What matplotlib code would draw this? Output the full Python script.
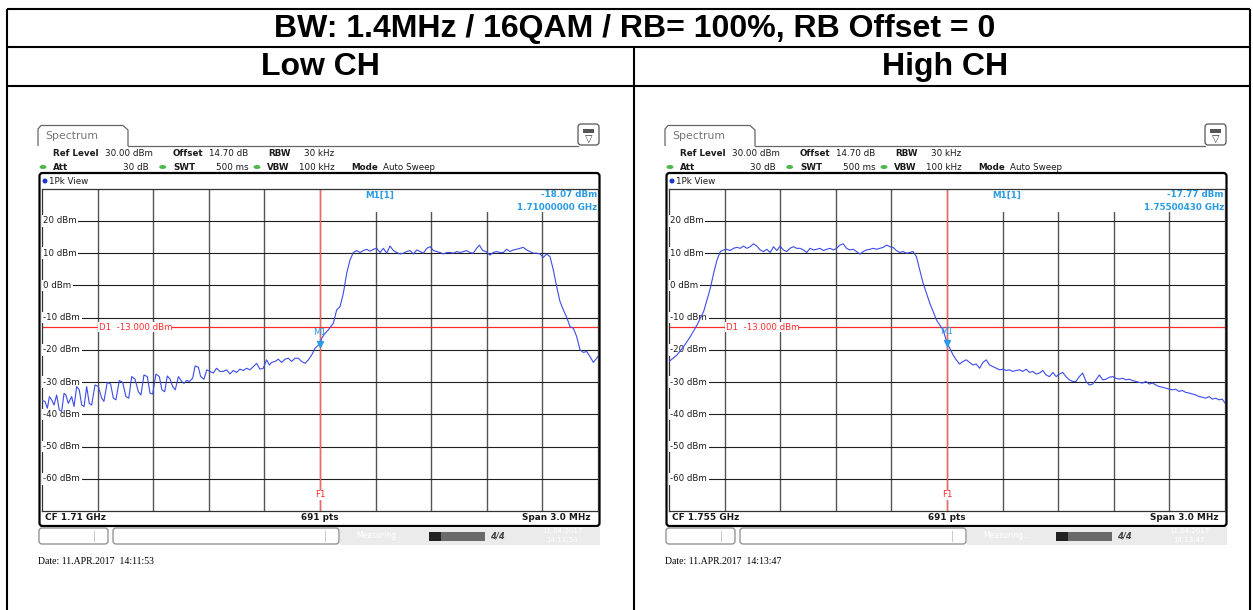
import matplotlib
matplotlib.use('Agg')
import matplotlib.pyplot as plt
from matplotlib.patches import Rectangle, FancyBboxPatch, Ellipse, Polygon
import numpy as np

plt.rcParams['font.family'] = ['DejaVu Sans']

# ---- chart data ----
title = 'BW: 1.4MHz / 16QAM / RB= 100%, RB Offset = 0'
col_titles = ['Low CH', 'High CH']

# trace: frequency offset from CF (MHz) and level (dBm)
low_freq = [-1.500, -1.484, -1.471, -1.460, -1.448, -1.435, -1.421, -1.407, -1.394, -1.381,
            -1.371, -1.358, -1.340, -1.327, -1.313, -1.299, -1.286, -1.273, -1.259, -1.245,
            -1.232, -1.214, -1.196, -1.178, -1.166, -1.148, -1.130, -1.115, -1.101, -1.083,
            -1.065, -1.047, -1.032, -1.016, -0.998, -0.980, -0.966, -0.950, -0.932, -0.917,
            -0.903, -0.885, -0.867, -0.853, -0.838, -0.824, -0.809, -0.795, -0.781, -0.764,
            -0.746, -0.734, -0.719, -0.705, -0.687, -0.674, -0.656, -0.644, -0.626, -0.611,
            -0.594, -0.576, -0.558, -0.540, -0.522, -0.504, -0.486, -0.468, -0.450, -0.432,
            -0.414, -0.396, -0.378, -0.360, -0.342, -0.324, -0.306, -0.288, -0.273, -0.261,
            -0.243, -0.225, -0.207, -0.189, -0.171, -0.153, -0.135, -0.117, -0.099, -0.081,
            -0.063, -0.045, -0.027, 0.000, 0.009, 0.027, 0.045, 0.072, 0.090, 0.108,
            0.126, 0.144, 0.162, 0.180, 0.198, 0.216, 0.234, 0.252, 0.270, 0.288,
            0.306, 0.324, 0.342, 0.360, 0.378, 0.396, 0.414, 0.432, 0.450, 0.468,
            0.486, 0.504, 0.522, 0.540, 0.558, 0.576, 0.594, 0.612, 0.630, 0.648,
            0.666, 0.684, 0.702, 0.720, 0.738, 0.756, 0.773, 0.791, 0.809, 0.827,
            0.845, 0.860, 0.878, 0.896, 0.917, 0.935, 0.953, 0.971, 0.989, 1.007,
            1.025, 1.043, 1.061, 1.079, 1.097, 1.115, 1.133, 1.151, 1.169, 1.187,
            1.205, 1.223, 1.241, 1.259, 1.277, 1.295, 1.313, 1.331, 1.349, 1.367,
            1.385, 1.403, 1.421, 1.439, 1.457, 1.475, 1.493, 1.500]
low_dbm = [-35.7, -36.0, -38.1, -34.5, -35.5, -37.1, -34.0, -38.6, -39.1, -33.5,
           -34.0, -36.6, -34.5, -37.6, -31.4, -32.4, -37.1, -37.6, -31.4, -36.6,
           -37.1, -30.9, -31.4, -35.0, -36.0, -30.1, -30.6, -35.0, -35.5, -29.5,
           -30.1, -34.5, -35.0, -28.3, -29.1, -33.0, -34.0, -27.8, -28.3, -33.5,
           -33.7, -27.5, -28.3, -32.4, -33.0, -28.1, -29.1, -31.4, -32.4, -28.3,
           -29.8, -30.4, -29.5, -29.8, -28.8, -25.0, -25.4, -28.3, -29.1, -26.2,
           -26.7, -27.2, -25.7, -26.7, -26.7, -26.2, -27.5, -26.4, -27.0, -26.0,
           -26.4, -25.7, -26.2, -25.2, -24.2, -26.0, -25.7, -23.1, -24.7, -23.9,
           -23.6, -22.9, -23.9, -22.9, -22.6, -23.6, -22.6, -22.6, -23.6, -24.2,
           -23.1, -21.6, -19.5, -18.07, -16.4, -14.9, -13.8, -11.75, -7.6, -6.6,
           -2.45, 3.75, 7.9, 10.2, 10.8, 10.2, 10.8, 11.2, 10.6, 11.2,
           11.5, 10.2, 11.5, 10.0, 12.2, 10.8, 10.2, 9.75, 10.0, 10.5,
           10.8, 9.75, 11.0, 10.5, 10.0, 11.5, 12.0, 10.8, 10.5, 10.2,
           9.75, 10.2, 10.2, 10.0, 10.5, 10.2, 10.5, 10.8, 10.2, 10.0,
           11.5, 12.5, 10.8, 10.5, 9.4, 10.2, 10.5, 10.2, 10.2, 11.2,
           10.5, 11.0, 11.2, 11.5, 11.8, 11.0, 10.5, 10.0, 10.0, 9.75,
           8.7, 9.75, 8.9, 4.8, -0.4, -5.0, -7.6, -9.9, -12.8, -13.3,
           -15.9, -20.0, -20.8, -20.5, -22.1, -23.9, -22.6, -22.0]

high_freq = [-1.500, -1.493, -1.457, -1.421, -1.385, -1.349, -1.313, -1.295, -1.277, -1.259,
             -1.241, -1.223, -1.205, -1.188, -1.170, -1.152, -1.134, -1.116, -1.098, -1.080,
             -1.062, -1.044, -1.026, -1.008, -0.990, -0.972, -0.954, -0.936, -0.918, -0.901,
             -0.883, -0.865, -0.847, -0.829, -0.811, -0.793, -0.775, -0.757, -0.739, -0.721,
             -0.703, -0.685, -0.667, -0.649, -0.631, -0.613, -0.596, -0.578, -0.560, -0.542,
             -0.524, -0.506, -0.488, -0.470, -0.452, -0.434, -0.416, -0.398, -0.380, -0.362,
             -0.344, -0.326, -0.308, -0.291, -0.273, -0.255, -0.237, -0.219, -0.201, -0.183,
             -0.165, -0.147, -0.129, -0.111, -0.093, -0.075, -0.057, -0.039, -0.021, 0.000,
             0.015, 0.033, 0.050, 0.068, 0.086, 0.104, 0.122, 0.140, 0.158, 0.176,
             0.194, 0.212, 0.230, 0.248, 0.266, 0.284, 0.302, 0.320, 0.337, 0.355,
             0.373, 0.391, 0.409, 0.427, 0.445, 0.463, 0.481, 0.499, 0.517, 0.535,
             0.553, 0.571, 0.589, 0.607, 0.624, 0.642, 0.660, 0.678, 0.696, 0.714,
             0.732, 0.750, 0.768, 0.786, 0.804, 0.822, 0.840, 0.858, 0.876, 0.894,
             0.911, 0.929, 0.947, 0.965, 0.983, 1.001, 1.019, 1.037, 1.055, 1.073,
             1.091, 1.109, 1.127, 1.145, 1.163, 1.181, 1.198, 1.216, 1.234, 1.252,
             1.270, 1.288, 1.306, 1.324, 1.342, 1.360, 1.378, 1.396, 1.414, 1.432,
             1.450, 1.468, 1.485, 1.500]
high_dbm = [-23.5, -23.3, -21.6, -19.0, -15.9, -12.3, -8.1, -4.5, -0.9, 3.8,
            7.9, 10.5, 11.0, 11.2, 10.8, 11.5, 11.8, 11.5, 12.2, 11.5,
            12.0, 12.9, 12.2, 11.0, 10.5, 11.2, 10.2, 12.0, 10.8, 12.2,
            11.0, 10.5, 11.5, 12.0, 11.5, 11.5, 11.0, 10.2, 11.5, 11.0,
            11.2, 11.5, 10.8, 11.2, 11.5, 11.0, 11.5, 12.5, 12.9, 11.5,
            11.0, 11.2, 10.5, 9.7, 10.5, 11.0, 11.2, 11.5, 11.2, 11.5,
            11.8, 12.5, 12.0, 11.8, 10.8, 10.2, 10.5, 10.0, 10.2, 10.5,
            8.9, 4.8, 0.7, -2.4, -5.5, -8.1, -10.7, -12.3, -13.8, -17.77,
            -19.5, -21.6, -23.1, -24.4, -23.6, -23.1, -23.9, -24.7, -24.4, -25.7,
            -23.9, -23.1, -24.7, -25.2, -25.7, -26.2, -26.0, -26.4, -26.2, -26.7,
            -26.4, -26.2, -26.7, -26.0, -27.0, -26.7, -27.5, -27.2, -26.4, -27.8,
            -28.3, -27.0, -28.3, -27.5, -27.0, -28.3, -29.3, -29.8, -29.8, -28.3,
            -27.2, -29.8, -30.9, -30.6, -29.3, -27.8, -29.3, -29.1, -28.5, -28.3,
            -28.8, -29.1, -28.8, -29.3, -29.1, -29.5, -29.8, -30.1, -30.3, -29.8,
            -30.6, -30.3, -30.9, -31.4, -31.6, -31.9, -32.2, -32.4, -32.2, -32.9,
            -32.6, -33.2, -33.4, -33.7, -34.0, -34.5, -34.7, -35.0, -34.5, -35.3,
            -35.0, -35.5, -35.3, -36.5]

cf_labels = ['CF 1.71 GHz', 'CF 1.755 GHz']
marker_dbm = [-18.07, -17.77]
marker_freq_labels = ['1.71000000 GHz', '1.75500430 GHz']
date_labels = ['Date: 11.APR.2017  14:11:53', 'Date: 11.APR.2017  14:13:47']
clock_labels = ['14:11:53', '14:13:47']
limit_dbm = -13.0
y_ticks = [20, 10, 0, -10, -20, -30, -40, -50, -60]
span_mhz = 3.0

W, H = 1253, 610
fig = plt.figure(figsize=(W / 100, H / 100), dpi=100)

# background axes in pixel coordinates (table + screenshot chrome)
bg = fig.add_axes([0, 0, 1, 1])
bg.set_xlim(0, W)
bg.set_ylim(H, 0)
bg.axis('off')

# table
tk = dict(color='black', lw=1.5, solid_capstyle='butt')
bg.plot([7, 1250], [9, 9], **tk)
bg.plot([7, 1250], [47, 47], **tk)
bg.plot([7, 1250], [86, 86], **tk)
bg.plot([7, 7], [9, 610], **tk)
bg.plot([1250, 1250], [9, 610], **tk)
bg.plot([634, 634], [47, 610], **tk)
bg.text(635, 29, title, ha='center', va='center', fontsize=23, fontweight='bold',
        family='Liberation Sans')
for cx, t in zip([320, 945], col_titles):
    bg.text(cx, 67, t, ha='center', va='center', fontsize=23, fontweight='bold',
            family='Liberation Sans')

TXT = '#1a1a1a'
BLUE_M = '#2b9be3'
RED = '#ff2a2a'


def chrome(dx, cf_label, date_label, clock):
    # tab + header
    bg.add_patch(Polygon([(38 + dx, 146), (38 + dx, 129), (41 + dx, 125.5), (123 + dx, 125.5),
                          (128 + dx, 130), (128 + dx, 146)], closed=False, fill=False,
                         ec='#666666', lw=0.9))
    bg.plot([128 + dx, 578 + dx], [146, 146], color='#666666', lw=0.9)
    bg.text(45 + dx, 136, 'Spectrum', fontsize=7.8, color='#777777', va='center')
    bg.add_patch(FancyBboxPatch((578 + dx, 124), 21, 21, boxstyle='round,pad=0,rounding_size=3',
                                fc='white', ec='#555555', lw=0.9))
    bg.add_patch(Rectangle((583 + dx, 128.5), 11, 4, fc='#555555', ec='none'))
    bg.text(588.5 + dx, 139, '\u25bd', fontsize=7, ha='center', va='center', color='#333333')

    r1 = [(52.7, 'Ref Level', 'bold'), (105, '30.00 dBm', 'normal'), (173, 'Offset', 'bold'),
          (209, '14.70 dB', 'normal'), (268, 'RBW', 'bold'), (304, '30 kHz', 'normal')]
    for x, t, w in r1:
        bg.text(x + dx, 153, t, fontsize=6.3, fontweight=w, color=TXT, va='center')
    r2 = [(52.7, 'Att', 'bold', 'left'), (149, '30 dB', 'normal', 'right'),
          (173, 'SWT', 'bold', 'left'), (249, '500 ms', 'normal', 'right'),
          (267, 'VBW', 'bold', 'left'), (299, '100 kHz', 'normal', 'left'),
          (351, 'Mode', 'bold', 'left'), (383, 'Auto Sweep', 'normal', 'left')]
    for x, t, w, ha in r2:
        bg.text(x + dx, 167, t, fontsize=6.3, fontweight=w, color=TXT, va='center', ha=ha)
    for x in [43, 162.7, 257]:
        bg.add_patch(Ellipse((x + dx, 167), 7, 4, fc='#4cb84c', ec='none'))

    # window frame
    bg.add_patch(FancyBboxPatch((39.5 + dx, 173), 560, 353, boxstyle='round,pad=0,rounding_size=3',
                                fc='none', ec='black', lw=1.6))
    bg.add_patch(Ellipse((45 + dx, 181), 5, 5, fc='#1f33d6', ec='none'))
    bg.text(49 + dx, 181, '1Pk View', fontsize=6.3, color=TXT, va='center')

    # bottom info bar
    bg.text(45 + dx, 518, cf_label, fontsize=6.4, fontweight='bold', color=TXT, va='center')
    bg.text(320 + dx, 518, '691 pts', fontsize=6.4, fontweight='bold', color=TXT,
            va='center', ha='center')
    bg.text(591 + dx, 518, 'Span 3.0 MHz', fontsize=6.4, fontweight='bold', color=TXT,
            va='center', ha='right')

    # status bar
    bg.add_patch(FancyBboxPatch((39 + dx, 528), 69, 16, boxstyle='round,pad=0,rounding_size=3',
                                fc='white', ec='#8a8a8a', lw=0.9))
    bg.plot([94 + dx, 94 + dx], [531, 541], color='#cccccc', lw=0.8)
    bg.add_patch(FancyBboxPatch((113 + dx, 528), 226, 16, boxstyle='round,pad=0,rounding_size=3',
                                fc='white', ec='#8a8a8a', lw=0.9))
    bg.plot([325 + dx, 325 + dx], [531, 541], color='#cccccc', lw=0.8)
    bg.add_patch(Rectangle((340 + dx, 527), 260, 18, fc='#ebebeb', ec='none'))
    bg.text(356 + dx, 536, 'Measuring...', fontsize=5.5, color='white', va='center')
    bg.add_patch(Rectangle((429 + dx, 531.5), 56, 9, fc='#6a6a6a', ec='none'))
    bg.add_patch(Rectangle((429 + dx, 531.5), 12, 9, fc='#222222', ec='none'))
    bg.text(497 + dx, 536, '4/4', fontsize=6, fontweight='bold', style='italic',
            color='#444444', va='center', ha='center')
    bg.text(562 + dx, 531, '11.04.2017', fontsize=5, color='white', va='center', ha='center')
    bg.text(562 + dx, 539.5, clock, fontsize=5, color='white', va='center', ha='center')

    bg.text(38 + dx, 562, date_label, fontsize=7, color='black', va='center',
            family='Liberation Serif')


def spectrum(dx, freq, dbm, m_db, m_freq):
    x0, x1, y0, y1 = 42 + dx, 598 + dx, 188.7, 511
    ax = fig.add_axes([x0 / W, 1 - y1 / H, (x1 - x0) / W, (y1 - y0) / H])
    ax.set_xlim(-span_mhz / 2, span_mhz / 2)
    ax.set_ylim(-70, 30)
    ax.set_yticks(y_ticks)
    ax.set_xticks(np.arange(-1.2, 1.21, 0.3))
    ax.tick_params(length=0, labelleft=False, labelbottom=False)
    ax.set_axisbelow(True)
    ax.yaxis.grid(True, color='#1e1e1e', lw=0.8)
    ax.xaxis.grid(True, color='#555555', lw=1.0)
    for s in ax.spines.values():
        s.set_color('#333333')
        s.set_linewidth(0.9)

    # white area behind marker readout
    ax.add_patch(Rectangle((0.1, 22.7), 1.4, 7.3, fc='white', ec='none', zorder=1))

    ax.axvline(0, color='#ff6060', lw=0.9, zorder=2)
    ax.axhline(limit_dbm, color=RED, lw=0.9, zorder=2)

    for v in y_ticks:
        ax.text(-1.492, v, f'{v} dBm', fontsize=6.2, color=TXT, va='center', ha='left', zorder=3,
                bbox=dict(fc='white', ec='none', pad=0.9))
    ax.text(-1.195, limit_dbm, 'D1  -13.000 dBm', fontsize=6.2, color=RED, va='center', ha='left',
            zorder=3, bbox=dict(fc='white', ec='none', pad=0.3))
    ax.text(0, -65, 'F1', fontsize=6.3, color=RED, va='center', ha='center', zorder=3,
            bbox=dict(fc='white', ec='none', pad=0.3))

    ax.plot(freq, dbm, color='#3b4ce8', lw=0.8, zorder=4)
    ax.plot([0], [m_db], marker='v', ms=4.5, color=BLUE_M, zorder=5, ls='none')
    ax.text(-0.004, m_db + 3.6, 'M1', fontsize=6.3, color=BLUE_M, ha='center', va='center',
            zorder=5)

    ax.text(0.243, 28.05, 'M1[1]', fontsize=6.3, color=BLUE_M, fontweight='bold',
            va='center', ha='left', zorder=5)
    ax.text(1.494, 28.05, f'{m_db:.2f} dBm', fontsize=6.3, color=BLUE_M, fontweight='bold',
            va='center', ha='right', zorder=5)
    ax.text(1.494, 24.3, m_freq, fontsize=6.3, color=BLUE_M, fontweight='bold',
            va='center', ha='right', zorder=5)


chrome(0, cf_labels[0], date_labels[0], clock_labels[0])
chrome(627, cf_labels[1], date_labels[1], clock_labels[1])
spectrum(0, low_freq, low_dbm, marker_dbm[0], marker_freq_labels[0])
spectrum(627, high_freq, high_dbm, marker_dbm[1], marker_freq_labels[1])

fig.savefig('out.png', dpi=100)
